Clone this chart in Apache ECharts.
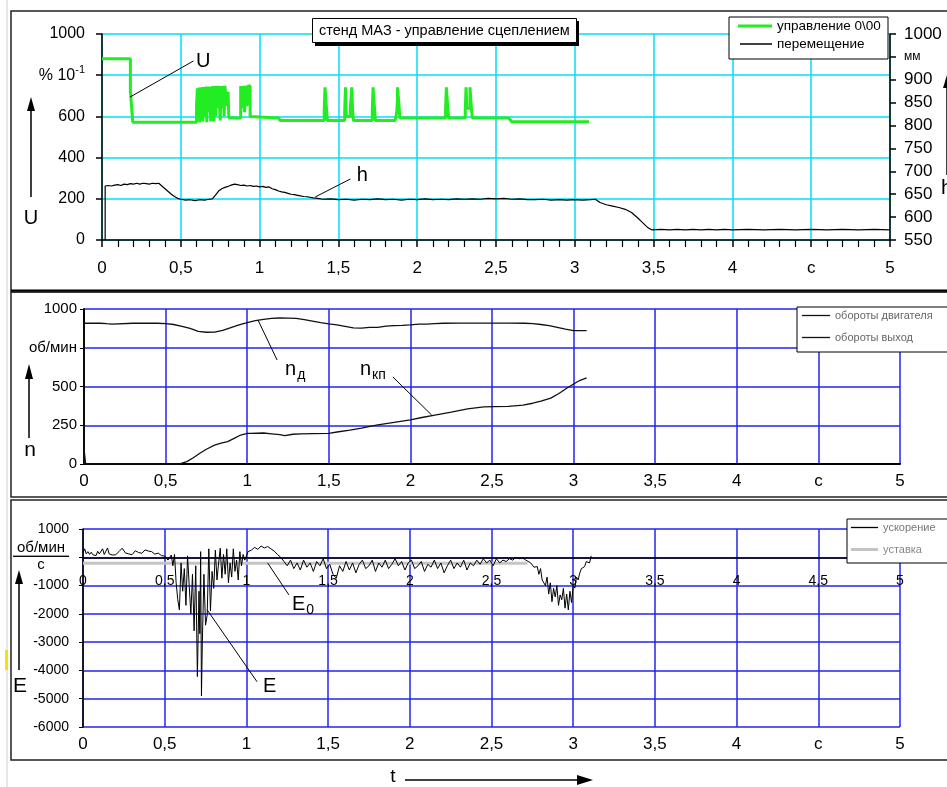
<!DOCTYPE html>
<html>
<head>
<meta charset="utf-8">
<script src="https://cdn.jsdelivr.net/npm/echarts/dist/echarts.min.js"></script>
<style>
html, body { margin: 0; padding: 0; background: #fff; }
#chart { width: 947px; height: 787px; }
</style>
</head>
<body>
<div id="chart"></div>
<script>
// --- data: time in s ---

// U, управление (%·10^-1)
var uPoints = [
  [0,880],[0.18,880],[0.18,725],[0.19,720],[0.195,572],[0.6,572],
  [0.6,650],[0.605,650],[0.605,736],[0.61,736],[0.61,600],[0.615,600],[0.615,740],[0.62,740],[0.62,570],[0.625,570],
  [0.625,700],[0.63,700],[0.63,620],[0.635,620],[0.635,742],[0.64,742],[0.64,575],[0.645,575],[0.645,742],[0.655,742],
  [0.655,600],[0.66,600],[0.66,745],[0.665,745],[0.665,572],[0.67,572],[0.67,745],[0.68,745],[0.68,620],[0.685,620],
  [0.685,745],[0.69,745],[0.69,575],[0.695,575],[0.695,745],[0.7,745],[0.7,650],[0.705,650],[0.705,748],[0.71,748],
  [0.71,575],[0.715,575],[0.715,748],[0.72,748],[0.72,600],[0.725,600],[0.725,748],[0.735,748],[0.735,640],[0.74,640],
  [0.74,748],[0.75,748],[0.75,580],[0.755,580],[0.755,748],[0.765,748],[0.765,640],[0.77,640],[0.77,748],[0.775,748],
  [0.775,600],[0.78,600],[0.78,748],[0.79,748],[0.79,650],[0.8,650],[0.8,720],[0.805,720],[0.805,592],[0.88,592],
  [0.88,748],[0.89,748],[0.89,640],[0.895,640],[0.895,748],[0.905,748],[0.905,620],[0.91,620],[0.91,748],[0.92,748],
  [0.92,650],[0.925,650],[0.925,748],[0.94,748],[0.94,600],[0.945,592],[1.12,592],[1.13,580],
  [1.41,580],[1.41,631],[1.415,631],[1.415,741],[1.425,741],[1.425,631],[1.43,631],[1.43,580],
  [1.54,580],[1.54,631],[1.545,631],[1.545,741],[1.55,741],[1.55,600],[1.575,600],[1.575,631],[1.585,631],[1.585,741],
  [1.59,741],[1.59,631],[1.595,631],[1.595,580],
  [1.715,580],[1.715,631],[1.72,631],[1.72,741],[1.73,741],[1.73,631],[1.735,631],[1.735,580],
  [1.86,580],[1.87,620],[1.875,680],[1.875,741],[1.885,741],[1.885,650],[1.89,650],[1.89,592],
  [2.18,592],[2.18,631],[2.185,631],[2.185,741],[2.195,741],[2.195,631],[2.2,631],[2.2,592],
  [2.305,592],[2.305,631],[2.31,631],[2.31,741],[2.315,741],[2.315,640],[2.335,640],[2.335,741],[2.345,741],
  [2.345,631],[2.35,631],[2.35,592],[2.58,592],[2.6,574],[3.09,574]
];

// h, перемещение (мм)
var hPoints = [
  [0.02,550],[0.02,668],[0.04,669],[0.06,668],[0.08,670],[0.1,671],[0.12,669],[0.14,672],[0.16,671],[0.18,673],
  [0.2,672],[0.22,674],[0.24,672],[0.26,674],[0.28,673],[0.3,672],[0.32,674],[0.34,673],[0.36,674],[0.38,668],
  [0.4,662],[0.42,656],[0.44,650],[0.46,645],[0.48,641],[0.5,639],[0.53,637],[0.56,638],[0.59,636],[0.62,638],
  [0.65,637],[0.68,639],[0.7,640],[0.72,648],[0.74,657],[0.76,662],[0.78,665],[0.8,667],[0.82,670],[0.84,672],
  [0.86,671],[0.88,669],[0.9,670],[0.92,668],[0.94,669],[0.96,667],[0.98,668],[1.0,666],[1.02,667],[1.04,665],
  [1.06,666],[1.08,662],[1.1,660],[1.12,657],[1.14,655],[1.16,654],[1.18,652],[1.2,650],[1.22,649],[1.25,647],
  [1.28,645],[1.31,644],[1.34,642],[1.37,641],[1.4,639],[1.45,640],[1.5,638],[1.55,639],[1.6,637],[1.65,639],
  [1.7,638],[1.75,640],[1.8,638],[1.85,639],[1.9,637],[1.95,639],[2.0,638],[2.05,640],[2.1,638],[2.15,639],
  [2.2,638],[2.25,640],[2.3,639],[2.35,640],[2.4,639],[2.45,641],[2.5,640],[2.55,641],[2.6,639],[2.65,640],
  [2.7,638],[2.75,638],[2.8,639],[2.85,637],[2.9,638],[2.95,637],[3.0,638],[3.05,637],[3.1,638],[3.13,639],
  [3.16,632],[3.2,627],[3.24,624],[3.28,621],[3.32,617],[3.36,610],[3.4,598],[3.43,588],[3.46,578],[3.49,572],
  [3.55,573],[3.6,572],[3.65,573],[3.7,572],[3.75,573],[3.8,572],[3.85,573],[3.9,572],[3.95,573],[4.0,572],
  [4.1,573],[4.2,572],[4.3,573],[4.4,572],[4.5,573],[4.6,572],[4.7,573],[4.8,572],[4.9,573],[5.0,572]
];

// n_д, обороты двигателя (об/мин)
var engPoints = [
  [0,0],[0,908],[0.1,908],[0.14,905],[0.15,900],[0.17,903],[0.18,908],[0.3,908],[0.45,908],[0.5,906],
  [0.55,900],[0.6,888],[0.65,875],[0.7,855],[0.75,850],[0.8,851],[0.85,862],[0.9,880],[0.95,898],[1.0,912],
  [1.05,925],[1.1,933],[1.15,940],[1.2,942],[1.25,941],[1.3,940],[1.35,932],[1.4,922],[1.45,912],[1.5,904],
  [1.55,898],[1.6,888],[1.65,878],[1.7,877],[1.75,881],[1.8,881],[1.85,889],[1.9,893],[1.95,895],[2.0,898],
  [2.05,902],[2.1,903],[2.15,906],[2.2,908],[2.3,909],[2.4,909],[2.5,909],[2.6,909],[2.7,908],[2.75,906],
  [2.8,900],[2.85,893],[2.9,882],[2.95,870],[3.0,860],[3.08,860]
];

// n_кп, обороты выход (об/мин)
var outPoints = [
  [0,0],[0,100],[0.01,0],[0.58,0],[0.6,5],[0.63,15],[0.67,40],[0.71,69],[0.75,95],[0.8,122],[0.84,135],
  [0.88,144],[0.92,165],[0.96,187],[1.0,197],[1.02,198],[1.1,200],[1.15,195],[1.2,190],[1.23,183],[1.28,192],
  [1.33,194],[1.4,196],[1.5,198],[1.56,208],[1.63,219],[1.7,232],[1.8,252],[1.9,268],[2.0,284],[2.07,300],
  [2.15,316],[2.25,335],[2.35,355],[2.45,368],[2.51,370],[2.6,372],[2.69,380],[2.75,392],[2.8,405],[2.86,425],
  [2.91,455],[2.96,490],[3.0,516],[3.04,540],[3.08,555]
];

// E, ускорение (об/мин/с)
var accPoints = [
  [0,150],[0.01,300],[0.02,120],[0.03,200],[0.04,100],[0.05,180],[0.06,90],[0.07,150],[0.08,60],[0.09,210],
  [0.1,120],[0.11,80],[0.12,300],[0.13,100],[0.14,160],[0.15,330],[0.16,120],[0.17,70],[0.18,80],[0.2,90],
  [0.22,200],[0.24,320],[0.26,150],[0.28,120],[0.3,90],[0.32,230],[0.34,170],[0.36,140],[0.38,260],[0.4,220],
  [0.42,200],[0.44,110],[0.46,150],[0.48,60],[0.5,40],[0.52,-100],[0.54,80],[0.55,-300],[0.56,100],[0.57,-900],
  [0.58,-1500],[0.59,-1860],[0.6,-200],[0.61,-1200],[0.62,-400],[0.63,-1700],[0.64,50],[0.65,-1000],[0.66,-2000],
  [0.67,-600],[0.68,-2600],[0.69,-300],[0.7,-4220],[0.71,-1200],[0.715,-2700],[0.72,200],[0.725,-4900],[0.73,-3100],
  [0.74,-600],[0.75,-2400],[0.76,-2040],[0.77,300],[0.78,-1900],[0.79,-500],[0.8,-1100],[0.81,250],[0.82,-800],
  [0.83,-200],[0.84,320],[0.85,-740],[0.86,100],[0.87,-600],[0.88,300],[0.89,-900],[0.9,-200],[0.91,-700],
  [0.92,300],[0.93,-500],[0.94,-100],[0.95,-800],[0.96,200],[0.97,-300],[0.98,100],[0.99,-100],[1.0,50],
  [1.01,200],[1.03,250],[1.05,350],[1.07,280],[1.09,400],[1.11,330],[1.13,380],[1.15,300],[1.17,220],[1.19,100],
  [1.21,0],[1.23,-150],[1.25,-300],[1.27,-100],[1.29,-400],[1.31,-200],[1.33,-450],[1.35,-100],[1.37,-350],
  [1.39,-200],[1.41,-500],[1.43,-150],[1.45,-300],[1.47,-50],[1.49,-400],[1.51,-250],[1.53,-600],[1.55,-740],
  [1.57,-300],[1.59,-500],[1.61,-150],[1.63,-450],[1.65,-200],[1.67,-550],[1.69,-250],[1.71,-100],[1.73,-400],
  [1.75,-300],[1.77,-100],[1.79,-500],[1.81,-200],[1.83,-350],[1.85,-100],[1.87,-400],[1.89,-250],[1.91,-50],
  [1.93,-300],[1.95,-150],[1.97,-450],[1.99,-200],[2.01,-100],[2.03,-400],[2.05,-300],[2.07,-150],[2.09,-500],
  [2.11,-250],[2.13,-350],[2.15,-100],[2.17,-400],[2.19,-200],[2.21,-550],[2.23,-300],[2.25,-100],[2.27,-400],
  [2.29,-200],[2.31,-350],[2.33,-100],[2.35,-450],[2.37,-200],[2.39,-300],[2.41,-100],[2.43,-250],[2.45,-50],
  [2.47,-200],[2.49,-100],[2.51,-300],[2.53,-50],[2.55,-200],[2.57,-100],[2.59,-150],[2.61,-50],[2.63,-100],
  [2.65,0],[2.67,-50],[2.69,-20],[2.71,-100],[2.74,-200],[2.76,-350],[2.78,-330],[2.79,-600],[2.8,-400],
  [2.81,-800],[2.82,-740],[2.83,-1000],[2.84,-700],[2.85,-1300],[2.86,-900],[2.87,-1570],[2.88,-1100],
  [2.89,-1400],[2.9,-1000],[2.91,-1700],[2.92,-1330],[2.93,-1500],[2.94,-1100],[2.95,-1800],[2.96,-1300],
  [2.97,-1860],[2.98,-1200],[2.99,-1600],[3.0,-1000],[3.01,-1090],[3.02,-700],[3.03,-800],[3.04,-560],
  [3.05,-400],[3.06,-450],[3.07,-330],[3.08,-150],[3.1,-200],[3.11,50]
];

// E0, уставка
var setPoints = [[0,-210],[2.72,-210]];

var names = ['управление 0\\00', 'перемещение', 'обороты двигателя', 'обороты выход', 'ускорение', 'уставка'];

var CYAN = '#00dff2';
var BLUE = '#2323f0';
var FONT = 'Liberation Sans, Arial, sans-serif';

function xLab(v) {
    if (v === 4.5) return 'с';
    return String(v).replace('.', ',');
}
function xLabZero(v) {
    return String(v).replace('.', ',');
}

var chart = echarts.init(document.getElementById('chart'));

var blackLine = function(w) { return { show: true, onZero: false, lineStyle: { color: '#000', width: w } }; };

// bottom panel: plot 529..727, zero of E at 529 + 198/7
var eZeroH = 198 / 7;

var option = {
    animation: false,
    backgroundColor: '#fff',
    textStyle: { fontFamily: FONT },
    title: {
        text: 'стенд МАЗ - управление сцеплением',
        left: 312, top: 18,
        padding: [5, 7, 5, 7],
        backgroundColor: '#fff',
        borderColor: '#000', borderWidth: 1,
        textStyle: { fontSize: 14.5, fontWeight: 'normal', color: '#000', fontFamily: FONT }
    },
    grid: [
        { left: 102, top: 34, width: 788, height: 206, outerBoundsMode: 'none' },
        { left: 84, top: 309, width: 816, height: 155, outerBoundsMode: 'none' },
        { left: 83, top: 529, width: 817, height: 198, outerBoundsMode: 'none' },
        { left: 83, top: 529, width: 817, height: 198, outerBoundsMode: 'none' },
        { left: 83, top: 529, width: 817, height: eZeroH, outerBoundsMode: 'none' }
    ],
    legend: [
        { data: [names[0]], left: 738, top: 19, icon: 'rect', itemWidth: 34, itemHeight: 3, padding: 0, selectedMode: false,
          textStyle: { fontSize: 13.5, color: '#000' } },
        { data: [names[1]], left: 740, top: 37, icon: 'rect', itemWidth: 32, itemHeight: 1.5, padding: 0, selectedMode: false,
          textStyle: { fontSize: 13.5, color: '#000' } },
        { data: [names[2]], left: 802, top: 310, icon: 'rect', itemWidth: 28, itemHeight: 1.3, padding: 0, selectedMode: false,
          textStyle: { fontSize: 11, color: '#666' } },
        { data: [names[3]], left: 802, top: 332, icon: 'rect', itemWidth: 28, itemHeight: 1.3, padding: 0, selectedMode: false,
          textStyle: { fontSize: 11, color: '#666' } },
        { data: [names[4]], left: 851, top: 522, icon: 'rect', itemWidth: 27, itemHeight: 1.3, padding: 0, selectedMode: false,
          textStyle: { fontSize: 11, color: '#777' } },
        { data: [names[5]], left: 851, top: 544, icon: 'rect', itemWidth: 27, itemHeight: 3, padding: 0, selectedMode: false,
          textStyle: { fontSize: 11, color: '#888' } }
    ],
    xAxis: [
        { gridIndex: 0, type: 'value', min: 0, max: 5, interval: 0.5,
          axisLine: blackLine(1.5),
          axisTick: { show: true, length: 7, lineStyle: { color: '#000', width: 1.5 } },
          minorTick: { show: true, splitNumber: 5, length: 7, lineStyle: { color: '#000', width: 1.2 } },
          splitLine: { show: true, lineStyle: { color: CYAN, width: 1.5 } },
          axisLabel: { formatter: xLab, fontSize: 17, color: '#000', margin: 20, showMinLabel: true, showMaxLabel: true } },
        { gridIndex: 1, type: 'value', min: 0, max: 5, interval: 0.5,
          axisLine: blackLine(2),
          axisTick: { show: false },
          splitLine: { show: true, lineStyle: { color: BLUE, width: 1.5 } },
          axisLabel: { formatter: xLab, fontSize: 17, color: '#000', margin: 9, showMinLabel: true, showMaxLabel: true } },
        { gridIndex: 2, type: 'value', min: 0, max: 5, interval: 0.5,
          axisLine: { show: true, onZero: true, lineStyle: { color: '#000', width: 1.5 } },
          axisTick: { show: false },
          splitLine: { show: true, lineStyle: { color: BLUE, width: 1.5 } },
          axisLabel: { show: false } },
        { gridIndex: 3, type: 'value', min: 0, max: 5, interval: 0.5,
          axisLine: { show: false }, axisTick: { show: false }, splitLine: { show: false },
          axisLabel: { formatter: xLab, fontSize: 17, color: '#000', margin: 9, showMinLabel: true, showMaxLabel: true } },
        { gridIndex: 4, type: 'value', min: 0, max: 5, interval: 0.5,
          axisLine: { show: false }, axisTick: { show: false }, splitLine: { show: false },
          axisLabel: { formatter: xLabZero, fontSize: 14, color: '#000', margin: 17, showMinLabel: true, showMaxLabel: true } }
    ],
    yAxis: [
        { gridIndex: 0, type: 'value', min: 0, max: 1000, interval: 200, position: 'left',
          axisLine: blackLine(1.5),
          axisTick: { show: true, length: 6, lineStyle: { color: '#000', width: 1.5 } },
          splitLine: { show: true, lineStyle: { color: CYAN, width: 1.5 } },
          axisLabel: { fontSize: 16, color: '#000', margin: 17,
            formatter: function(v) { return v === 800 ? '{a|% 10}{s|-1}' : String(v); },
            rich: { a: { fontSize: 16, color: '#000' }, s: { fontSize: 11, color: '#000', padding: [0, 0, 10, 0] } } } },
        { gridIndex: 0, type: 'value', min: 550, max: 1000, interval: 50, position: 'right',
          axisLine: blackLine(1.5),
          axisTick: { show: true, length: 6, lineStyle: { color: '#000', width: 1.5 } },
          splitLine: { show: false },
          axisLabel: { fontSize: 17, color: '#000', margin: 14,
            formatter: function(v) { return v === 950 ? '{m|мм}' : String(v); },
            rich: { m: { fontSize: 12, color: '#000' } } } },
        { gridIndex: 1, type: 'value', min: 0, max: 1000, interval: 250,
          axisLine: blackLine(2),
          axisTick: { show: true, length: 4, lineStyle: { color: '#000', width: 1 } },
          splitLine: { show: true, lineStyle: { color: BLUE, width: 1.5 } },
          axisLabel: { fontSize: 15, color: '#000', margin: 7,
            formatter: function(v) { return v === 750 ? 'об/мин' : String(v); } } },
        { gridIndex: 2, type: 'value', min: -6000, max: 1000, interval: 1000,
          axisLine: blackLine(1.5),
          axisTick: { show: true, length: 4, lineStyle: { color: '#000', width: 1 } },
          splitLine: { show: true, lineStyle: { color: BLUE, width: 1.5 } },
          axisLabel: { fontSize: 14, color: '#000', margin: 14,
            formatter: function(v) { return v === 0 ? '{a|об/мин}\n{hr|}\n{b|с}' : String(v); },
            rich: {
                a: { fontSize: 15, color: '#000', width: 56, align: 'center', lineHeight: 16 },
                hr: { borderColor: '#000', borderWidth: 1, width: '100%', height: 0 },
                b: { fontSize: 15, color: '#000', width: 56, align: 'center', lineHeight: 18 }
            } } },
        { gridIndex: 3, type: 'value', min: -6000, max: 1000, interval: 1000, show: false },
        { gridIndex: 4, type: 'value', min: 0, max: 1000, show: false }
    ],
    series: [
        { name: names[0], type: 'line', xAxisIndex: 0, yAxisIndex: 0, data: uPoints, symbol: 'none',
          color: '#22ec22', lineStyle: { width: 3, color: '#22ec22' }, z: 3 },
        { name: names[1], type: 'line', xAxisIndex: 0, yAxisIndex: 1, data: hPoints, symbol: 'none',
          color: '#000', lineStyle: { width: 1.2, color: '#000' } },
        { name: names[2], type: 'line', xAxisIndex: 1, yAxisIndex: 2, data: engPoints, symbol: 'none',
          color: '#111', lineStyle: { width: 1.3, color: '#111' } },
        { name: names[3], type: 'line', xAxisIndex: 1, yAxisIndex: 2, data: outPoints, symbol: 'none',
          color: '#111', lineStyle: { width: 1.3, color: '#111' } },
        { name: names[5], type: 'line', xAxisIndex: 2, yAxisIndex: 3, data: setPoints, symbol: 'none',
          color: '#c4c4c4', lineStyle: { width: 3, color: '#c4c4c4' } },
        { name: names[4], type: 'line', xAxisIndex: 2, yAxisIndex: 3, data: accPoints, symbol: 'none',
          color: '#000', lineStyle: { width: 1, color: '#000' } }
    ]
};

chart.setOption(option);

// callouts in data coordinates: leader line + label
var callouts = [
    { xi: 0, yi: 0, from: [0.178, 694], to: [0.58, 869], at: [0.642, 869], text: '{m|U}', align: 'center' },
    { xi: 0, yi: 0, from: [1.353, 209], to: [1.576, 296], at: [1.652, 311], text: '{m|h}', align: 'center' },
    { xi: 1, yi: 2, from: [1.066, 929], to: [1.183, 671], at: [1.232, 613], text: '{m|n}{s|д}', align: 'left' },
    { xi: 1, yi: 2, from: [1.893, 561], to: [2.13, 316], at: [1.691, 613], text: '{m|n}{s|кп}', align: 'left' },
    { xi: 2, yi: 3, from: [1.13, -200], to: [1.26, -1330], at: [1.279, -1651], text: '{m|E}{s|0}', align: 'left' },
    { xi: 2, yi: 3, from: [0.76, -1860], to: [1.065, -4400], at: [1.102, -4574], text: '{m|E}', align: 'left' }
];

function px(c, p) {
    return chart.convertToPixel({ xAxisIndex: c.xi, yAxisIndex: c.yi }, p);
}

var richNote = {
    m: { fontSize: 20, fontFamily: FONT, fill: '#000', color: '#000' },
    s: { fontSize: 14, fontFamily: FONT, fill: '#000', color: '#000', padding: [12, 0, 0, 1] }
};

var g = [];

// panel frames
g.push({ type: 'rect', silent: true, z: 1, shape: { x: 11, y: 11, width: 950, height: 280 },
         style: { fill: 'none', stroke: '#222', lineWidth: 1.5 } });
g.push({ type: 'line', silent: true, z: 1, shape: { x1: 11, y1: 291, x2: 947, y2: 291 },
         style: { stroke: '#000', lineWidth: 3 } });
g.push({ type: 'rect', silent: true, z: 1, shape: { x: 11, y: 292, width: 950, height: 205 },
         style: { fill: 'none', stroke: '#222', lineWidth: 1.5 } });
g.push({ type: 'rect', silent: true, z: 1, shape: { x: 11, y: 500, width: 950, height: 260 },
         style: { fill: 'none', stroke: '#222', lineWidth: 1.5 } });
// left ruler
g.push({ type: 'line', silent: true, z: 1, shape: { x1: 7, y1: 0, x2: 7, y2: 787 },
         style: { stroke: '#d0d0d0', lineWidth: 1 } });
g.push({ type: 'rect', silent: true, z: 1, shape: { x: 5, y: 650, width: 3, height: 20 },
         style: { fill: '#f2e600' } });

// title shadow
g.push({ type: 'rect', silent: true, z: 5, shape: { x: 315, y: 21, width: 264, height: 25 },
         style: { fill: '#000' } });

// legend boxes
g.push({ type: 'rect', silent: true, z: 3, shape: { x: 729, y: 17, width: 159, height: 42 },
         style: { fill: '#fff', stroke: '#000', lineWidth: 1 } });
g.push({ type: 'rect', silent: true, z: 3, shape: { x: 797, y: 307, width: 170, height: 45 },
         style: { fill: '#fff', stroke: '#000', lineWidth: 1 } });
g.push({ type: 'rect', silent: true, z: 3, shape: { x: 847, y: 519, width: 120, height: 44 },
         style: { fill: '#fff', stroke: '#000', lineWidth: 1 } });

// axis arrows and letters
function upArrow(x, tip, bottom, head) {
    g.push({ type: 'line', silent: true, z: 5, shape: { x1: x, y1: bottom, x2: x, y2: tip + head - 2 },
             style: { stroke: '#000', lineWidth: 1.5 } });
    g.push({ type: 'polygon', silent: true, z: 5, shape: { points: [[x, tip], [x - 4, tip + head], [x + 4, tip + head]] },
             style: { fill: '#000' } });
}
function letter(t, x, y, size) {
    g.push({ type: 'text', silent: true, z: 5,
             style: { text: t, x: x, y: y, fontSize: size, fontFamily: FONT, fill: '#000', align: 'center', verticalAlign: 'middle' } });
}
upArrow(31, 97, 197, 14);
letter('U', 31, 218, 20);
upArrow(29, 364, 438, 15);
letter('n', 30, 450, 21);
upArrow(19, 570, 670, 14);
letter('E', 20, 686, 21);
upArrow(947, 75, 175, 13);
g.push({ type: 'text', silent: true, z: 5,
         style: { text: 'h', x: 941, y: 188, fontSize: 21, fontFamily: FONT, fill: '#000', align: 'left', verticalAlign: 'middle' } });

// time arrow
letter('t', 393, 777, 19);
g.push({ type: 'line', silent: true, z: 5, shape: { x1: 405, y1: 780, x2: 580, y2: 780 },
         style: { stroke: '#000', lineWidth: 1.5 } });
g.push({ type: 'polygon', silent: true, z: 5, shape: { points: [[593, 780], [577, 775], [577, 785]] },
         style: { fill: '#000' } });

// callouts
callouts.forEach(function(c) {
    var a = px(c, c.from), b = px(c, c.to), p = px(c, c.at);
    g.push({ type: 'line', silent: true, z: 10, shape: { x1: a[0], y1: a[1], x2: b[0], y2: b[1] },
             style: { stroke: '#000', lineWidth: 1 } });
    g.push({ type: 'text', silent: true, z: 10,
             style: { text: c.text, rich: richNote, x: p[0], y: p[1], align: c.align, verticalAlign: 'middle',
                      fontSize: 20, fontFamily: FONT, fill: '#000' } });
});

chart.setOption({ graphic: g });
</script>
</body>
</html>
